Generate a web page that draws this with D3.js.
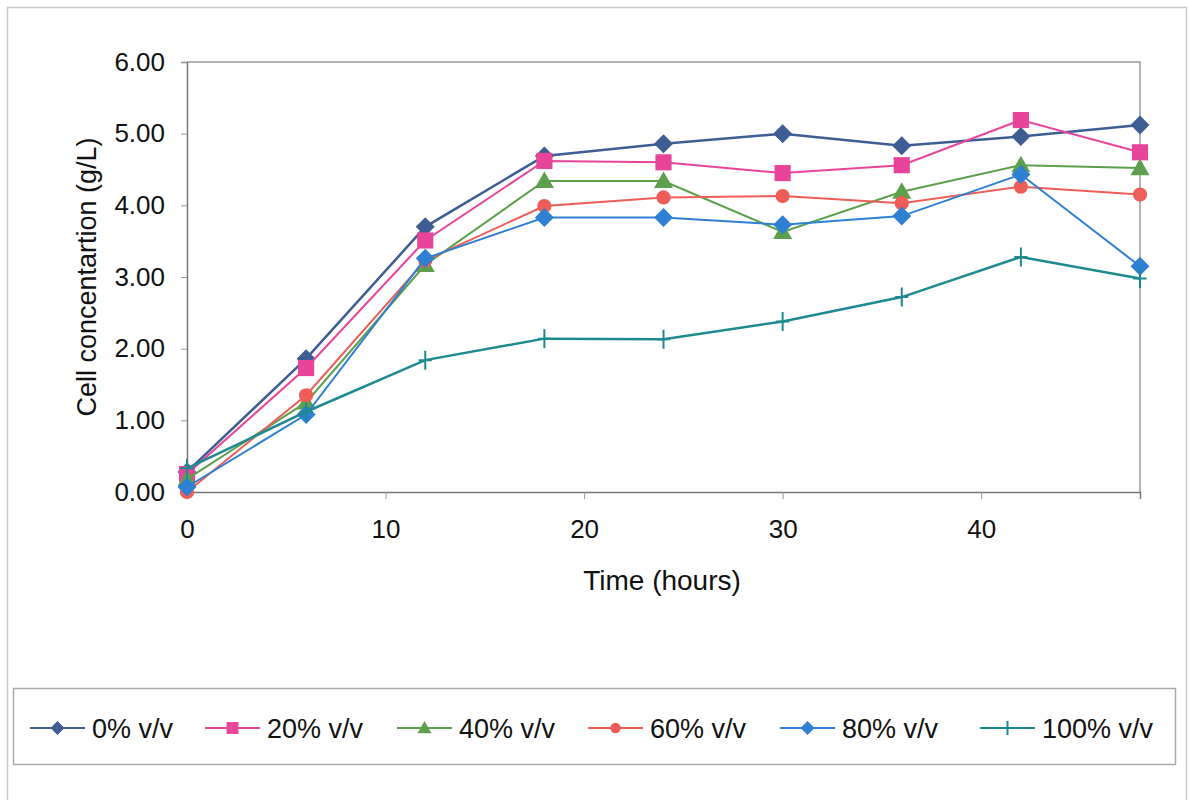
<!DOCTYPE html>
<html>
<head>
<meta charset="utf-8">
<script src="https://cdn.jsdelivr.net/npm/d3@7"></script>
<style>
  body { margin: 0; background: #fff; }
  text { font-family: "Liberation Sans", Arial, sans-serif; fill: #111; }
</style>
</head>
<body>
<svg width="1190" height="800"></svg>
<script>
// sampling times (hours)
const hours = [0, 6, 12, 18, 24, 30, 36, 42, 48];

// cell concentration (g/L) per methanol fraction
const s0   = [0.28, 1.86, 3.70, 4.69, 4.86, 5.00, 4.83, 4.96, 5.12];
const s20  = [0.25, 1.73, 3.51, 4.62, 4.60, 4.45, 4.56, 5.19, 4.74];
const s40  = [0.18, 1.25, 3.17, 4.34, 4.34, 3.63, 4.19, 4.56, 4.52];
const s60  = [0.00, 1.35, 3.23, 3.99, 4.11, 4.13, 4.03, 4.26, 4.15];
const s80  = [0.07, 1.08, 3.26, 3.83, 3.83, 3.73, 3.85, 4.43, 3.15];
const s100 = [0.33, 1.12, 1.84, 2.14, 2.13, 2.38, 2.72, 3.28, 2.98];

const seriesNames = ["0% v/v", "20% v/v", "40% v/v", "60% v/v", "80% v/v", "100% v/v"];
const seriesValues = [s0, s20, s40, s60, s80, s100];
const colors = ["#3d5d93", "#e8449a", "#5c9f4c", "#ee5d57", "#2f7fd2", "#1e8a8f"];
const shapes = ["diamond", "square", "triangle", "circle", "diamond", "plus"];

const xTicks = [0, 10, 20, 30, 40];
const yTicks = [0, 1, 2, 3, 4, 5, 6];

const svg = d3.select("svg");
const width = +svg.attr("width");
const height = +svg.attr("height");

const x = d3.scaleLinear().domain([0, 48]).range([187, 1140]);
const y = d3.scaleLinear().domain([0, 6]).range([492, 62]);

// outer frame
svg.append("rect")
    .attr("x", 7.5).attr("y", 7.5)
    .attr("width", 1179).attr("height", 800)
    .attr("fill", "none").attr("stroke", "#c8c8c8").attr("stroke-width", 1.5);

// plot area border (top/right)
svg.append("path")
    .attr("d", `M${x(0)},${y(6)}H${x(48)}V${y(0)}`)
    .attr("fill", "none").attr("stroke", "#999").attr("stroke-width", 1.5);

// axes
const yAxis = d3.axisLeft(y).tickValues(yTicks).tickFormat(d3.format(".2f")).tickSize(6).tickPadding(16);
const xAxis = d3.axisBottom(x).tickValues(xTicks).tickFormat(d3.format("d")).tickSize(7).tickPadding(21);

const gy = svg.append("g").attr("transform", `translate(${x(0)},0)`).call(yAxis);
const gx = svg.append("g").attr("transform", `translate(0,${y(0)})`).call(xAxis);
[gx, gy].forEach(g => {
    g.select(".domain").attr("stroke", "#777").attr("stroke-width", 1.5);
    g.selectAll(".tick line").attr("stroke", "#999");
    g.selectAll(".tick text").attr("font-size", 26).attr("fill", "#111")
        .attr("font-family", "Liberation Sans, Arial, sans-serif");
});

// axis titles
svg.append("text")
    .attr("x", 662).attr("y", 590)
    .attr("text-anchor", "middle").attr("font-size", 28)
    .text("Time (hours)");
svg.append("text")
    .attr("transform", "translate(96,277) rotate(-90)")
    .attr("text-anchor", "middle").attr("font-size", 27)
    .text("Cell concentartion (g/L)");

function drawMarker(g, shape, color, cx, cy, s) {
    if (shape === "diamond") {
        g.append("path").attr("d", `M${cx},${cy - s}L${cx + s},${cy}L${cx},${cy + s}L${cx - s},${cy}Z`)
            .attr("fill", color);
    } else if (shape === "square") {
        g.append("rect").attr("x", cx - s * 0.85).attr("y", cy - s * 0.85)
            .attr("width", s * 1.7).attr("height", s * 1.7).attr("fill", color);
    } else if (shape === "triangle") {
        g.append("path").attr("d", `M${cx},${cy - s}L${cx + s},${cy + s * 0.75}L${cx - s},${cy + s * 0.75}Z`)
            .attr("fill", color);
    } else if (shape === "circle") {
        g.append("circle").attr("cx", cx).attr("cy", cy).attr("r", s * 0.75).attr("fill", color);
    } else if (shape === "plus") {
        g.append("path").attr("d", `M${cx},${cy - s}V${cy + s}M${cx - s * 0.7},${cy}H${cx + s * 0.7}`)
            .attr("stroke", color).attr("stroke-width", 2).attr("fill", "none");
    }
}

const line = d3.line().x((d, i) => x(hours[i])).y(d => y(d));

seriesValues.forEach((vals, k) => {
    const g = svg.append("g");
    g.append("path")
        .datum(vals)
        .attr("d", line)
        .attr("fill", "none")
        .attr("stroke", colors[k])
        .attr("stroke-width", k === 0 || k === 5 ? 2.5 : 2);
    vals.forEach((v, i) => drawMarker(g, shapes[k], colors[k], x(hours[i]), y(v), 9.5));
});

// legend
const legendY = 728;
const legendX = [30, 205, 397, 588, 780, 980];
svg.append("rect")
    .attr("x", 13.5).attr("y", 688.5)
    .attr("width", 1162).attr("height", 76)
    .attr("fill", "#fff").attr("stroke", "#aaa").attr("stroke-width", 1.5);

seriesNames.forEach((name, k) => {
    const g = svg.append("g");
    const lx = legendX[k];
    g.append("line")
        .attr("x1", lx).attr("x2", lx + 55)
        .attr("y1", legendY).attr("y2", legendY)
        .attr("stroke", colors[k]).attr("stroke-width", 2);
    drawMarker(g, shapes[k], colors[k], lx + 27.5, legendY, 7);
    g.append("text")
        .attr("x", lx + 62).attr("y", legendY + 9.5)
        .attr("font-size", 27)
        .text(name);
});
</script>
</body>
</html>
